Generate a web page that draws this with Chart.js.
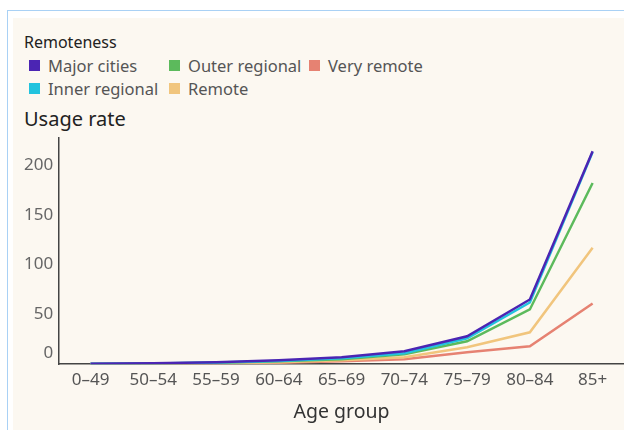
<!DOCTYPE html>
<html>
<head>
<meta charset="utf-8">
<script src="https://cdn.jsdelivr.net/npm/chart.js@4"></script>
<style>
    body { margin: 0; background: #fff; font-family: "Noto Sans", sans-serif; }
    .frame { position: absolute; left: 7px; top: 10px; right: 0; bottom: 0;
        border-left: 1.5px solid #a9d1f5; border-top: 1.5px solid #a9d1f5; }
    .panel { position: absolute; left: 5px; top: 7px; right: 0; bottom: 0; background: #fcf8f1; }
    .legend-title { position: absolute; left: 11px; top: 13px; font-size: 16px; color: #222; }
    .legend { position: absolute; left: 16px; top: 36px; display: grid;
        grid-template-rows: 23px 23px; grid-auto-flow: column; grid-template-columns: 140px 140px max-content;
        font-size: 16.5px; color: #555; }
    .legend span { display: flex; align-items: center; white-space: nowrap; }
    .legend i { width: 11px; height: 11px; margin-right: 8px; display: inline-block; }
    .title { position: absolute; left: 11px; top: 87px; font-size: 20px; color: #222; }
    .chart { position: absolute; left: 0; top: 104px; width: 612px; height: 308px; }
</style>
</head>
<body>
<div class="frame"><div class="panel">
    <div class="legend-title">Remoteness</div>
    <div class="legend" id="legend"></div>
    <div class="title">Usage rate</div>
    <div class="chart"><canvas id="usageChart"></canvas></div>
</div></div>
<script>
const ageGroups = ["0–49", "50–54", "55–59", "60–64", "65–69", "70–74", "75–79", "80–84", "85+"];
const majorCities = [0.5, 1, 2, 4, 7, 13, 28, 65, 214];
const innerRegional = [0.4, 0.8, 1.6, 3.3, 6, 11, 26, 62, 213];
const outerRegional = [0.3, 0.7, 1.4, 3, 5, 10, 23, 55, 182];
const remote = [0.2, 0.5, 1, 2, 4, 7, 17, 32, 117];
const veryRemote = [0.2, 0.4, 0.8, 1.5, 3, 5, 12, 18, 61];
const yTicks = [0, 50, 100, 150, 200];

const series = [
    { label: "Major cities", data: majorCities, color: "#4b25b3" },
    { label: "Inner regional", data: innerRegional, color: "#22c3de" },
    { label: "Outer regional", data: outerRegional, color: "#5cba5c" },
    { label: "Remote", data: remote, color: "#f1c57d" },
    { label: "Very remote", data: veryRemote, color: "#e68272" },
];

// legend order in the picture: column by column
const legendOrder = ["Major cities", "Inner regional", "Outer regional", "Remote", "Very remote"];
document.getElementById("legend").innerHTML = legendOrder.map(function (name) {
    const s = series.find(x => x.label === name);
    return '<span><i style="background:' + s.color + '"></i>' + name + "</span>";
}).join("");

// the zero label sits above the axis line
const zeroLabel = {
    id: "zeroLabel",
    afterDraw(chart) {
        const y = chart.scales.y;
        const c = chart.ctx;
        c.save();
        c.font = '17px "Noto Sans"';
        c.fillStyle = "#666";
        c.textAlign = "right";
        c.textBaseline = "middle";
        c.fillText("0", y.right - 6, y.getPixelForValue(0) - 11);
        c.restore();
    },
};

const ctx = document.getElementById("usageChart");
new Chart(ctx, {
    type: "line",
    data: {
        labels: ageGroups,
        datasets: series.map(s => ({
            label: s.label,
            data: s.data,
            borderColor: s.color,
            backgroundColor: s.color,
            borderWidth: 2.5,
            pointRadius: 0,
            tension: 0,
            fill: false,
        })),
    },
    plugins: [zeroLabel],
    options: {
        responsive: true,
        maintainAspectRatio: false,
        animation: false,
        layout: { padding: { left: 5, right: 1, top: 0, bottom: 6 } },
        plugins: {
            legend: { display: false },
            title: { display: false },
            tooltip: { enabled: false },
        },
        scales: {
            y: {
                min: 0,
                max: 227,
                afterBuildTicks: axis => { axis.ticks = yTicks.map(v => ({ value: v })); },
                grid: { display: false, drawTicks: false },
                border: { display: true, color: "#444", width: 1.5 },
                ticks: {
                    padding: 6,
                    color: c => (c.tick && c.tick.value === 0 ? "rgba(0,0,0,0)" : "#666"),
                    font: { family: "Noto Sans", size: 17 },
                },
            },
            x: {
                offset: true,
                grid: { display: false, drawTicks: false },
                border: { display: true, color: "#444", width: 1.5 },
                ticks: {
                    padding: 6,
                    color: "#555",
                    maxRotation: 0,
                    font: { family: "Noto Sans", size: 17 },
                },
                title: {
                    display: true,
                    text: "Age group",
                    color: "#333",
                    font: { family: "Noto Sans", size: 19.5 },
                    padding: { top: 4, bottom: 0 },
                },
            },
        },
    },
});
</script>
</body>
</html>
